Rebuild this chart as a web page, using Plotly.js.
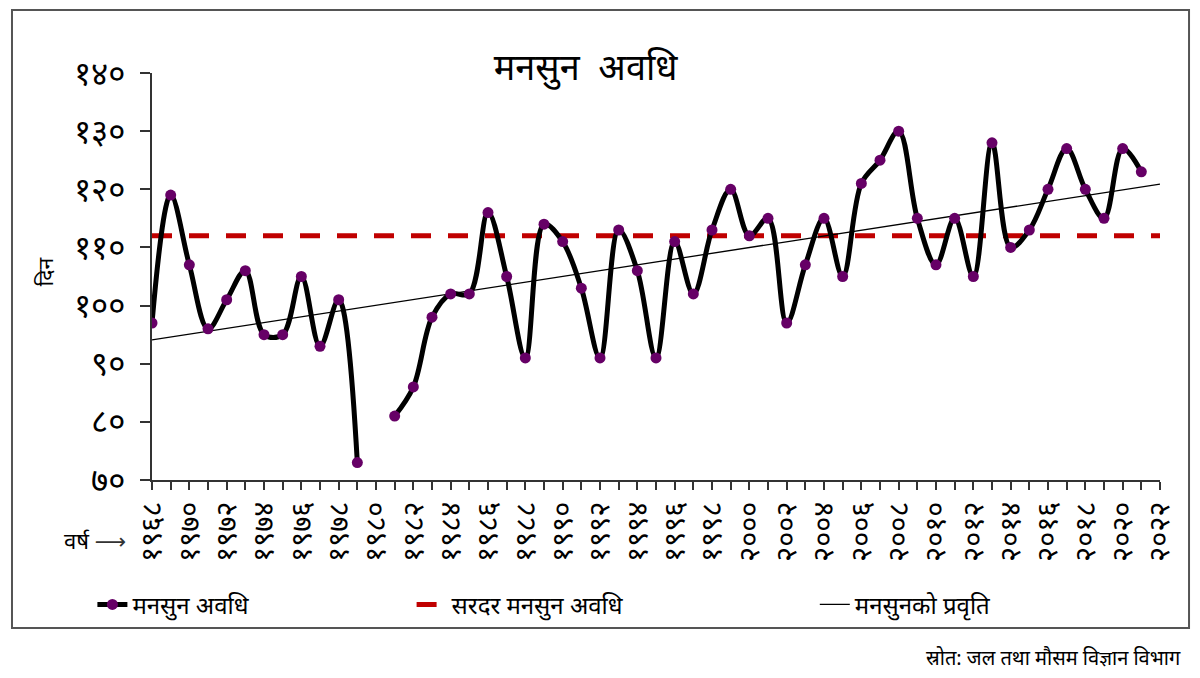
<!DOCTYPE html>
<html>
<head>
<meta charset="utf-8">
<script src="https://cdn.plot.ly/plotly-3.0.1.min.js"></script>
<style>
  html, body { margin: 0; padding: 0; background: #ffffff; }
  #chart { width: 1200px; height: 678px; }
</style>
</head>
<body>
<div id="chart"></div>
<script>
// ---- data ----
const years = [1968,1969,1970,1971,1972,1973,1974,1975,1976,1977,1978,1979,1980,1981,1982,1983,1984,1985,1986,1987,1988,1989,1990,1991,1992,1993,1994,1995,1996,1997,1998,1999,2000,2001,2002,2003,2004,2005,2006,2007,2008,2009,2010,2011,2012,2013,2014,2015,2016,2017,2018,2019,2020,2021];
const monsoonDays = [97,119,107,96,101,106,95,95,105,93,101,73,null,81,86,98,102,102,116,105,91,114,111,103,91,113,106,91,111,102,113,120,112,115,97,107,115,105,121,125,130,115,107,115,105,128,110,113,120,127,120,115,127,123];

const avgYears = [1968, 2022];
const avgDays = [112, 112];

const trendYears = [1968, 2022];
const trendDays = [94.1, 120.9];

const yTickVals = [70, 80, 90, 100, 110, 120, 130, 140];
const yTickText = ['७०', '८०', '९०', '१००', '११०', '१२०', '१३०', '१४०'];

const xTickVals = [1968,1970,1972,1974,1976,1978,1980,1982,1984,1986,1988,1990,1992,1994,1996,1998,2000,2002,2004,2006,2008,2010,2012,2014,2016,2018,2020,2022];
const xTickText = ['१९६८','१९७०','१९७२','१९७४','१९७६','१९७८','१९८०','१९८२','१९८४','१९८६','१९८८','१९९०','१९९२','१९९४','१९९६','१९९८','२०००','२००२','२००४','२००६','२००८','२०१०','२०१२','२०१४','२०१६','२०१८','२०२०','२०२२'];

const seriesName = 'मनसुन अवधि';
const avgName = 'सरदर मनसुन अवधि';
const trendName = 'मनसुनको प्रवृति';
const titleText = 'मनसुन  अवधि';
const yTitleText = 'दिन';
const xTitleText = 'वर्ष';
const sourceText = 'स्रोत: जल तथा मौसम विज्ञान विभाग';

const FONT = '"Noto Sans", "Noto Sans Devanagari", "DejaVu Sans", sans-serif';

const traces = [
  {
    x: avgYears, y: avgDays, name: avgName, type: 'scatter', mode: 'lines',
    line: { color: '#c00000', width: 5, dash: '20px,17px' },
    legend: 'legend2', hoverinfo: 'skip'
  },
  {
    x: trendYears, y: trendDays, name: trendName, type: 'scatter', mode: 'lines',
    line: { color: '#000000', width: 1.3 },
    legend: 'legend3', hoverinfo: 'skip'
  },
  {
    x: years, y: monsoonDays, name: seriesName, type: 'scatter', mode: 'lines+markers',
    connectgaps: false,
    line: { color: '#000000', width: 5, shape: 'spline', smoothing: 1 },
    marker: { color: '#660066', size: 11 },
    legend: 'legend'
  }
];

const legendCommon = {
  orientation: 'h', xref: 'container', yref: 'container',
  yanchor: 'middle', xanchor: 'left', y: 0.108,
  bgcolor: 'rgba(0,0,0,0)', borderwidth: 0,
  font: { family: FONT, size: 24, color: '#000' }
};

const layout = {
  width: 1200, height: 678,
  paper_bgcolor: '#ffffff', plot_bgcolor: '#ffffff',
  margin: { l: 152, r: 40, t: 73, b: 198 },
  font: { family: FONT, color: '#000' },
  title: {
    text: titleText, xref: 'container', yref: 'container',
    x: 0.488, xanchor: 'center', y: 0.9, yanchor: 'middle',
    font: { family: FONT, size: 36, color: '#000' }
  },
  xaxis: {
    range: [1968, 2022], showgrid: false, zeroline: false,
    showline: true, linecolor: '#333', linewidth: 2,
    tickmode: 'array', tickvals: xTickVals, ticktext: xTickText,
    tickangle: -90, ticks: 'outside', ticklen: 8, tickcolor: '#333', tickwidth: 1.5,
    tickfont: { family: FONT, size: 29, color: '#000' },
    minor: { dtick: 1, tick0: 1968, ticks: 'outside', ticklen: 8, tickcolor: '#333', tickwidth: 1.5, showgrid: false }
  },
  yaxis: {
    range: [70, 140], showgrid: false, zeroline: false,
    showline: true, linecolor: '#333', linewidth: 2,
    tickmode: 'array', tickvals: yTickVals, ticktext: yTickText,
    ticks: 'outside', ticklen: 10, tickcolor: '#333', tickwidth: 1.5,
    ticklabelstandoff: 8,
    tickfont: { family: FONT, size: 33, color: '#000' }
  },
  showlegend: true,
  legend: Object.assign({}, legendCommon, { x: 0.077 }),
  legend2: Object.assign({}, legendCommon, { x: 0.343 }),
  legend3: Object.assign({}, legendCommon, { x: 0.679 }),
  shapes: [
    {
      type: 'rect', xref: 'paper', yref: 'paper',
      x0: -0.1389, x1: 1.0288, y0: -0.3636, y1: 1.1548,
      line: { color: '#555', width: 2 }, fillcolor: 'rgba(0,0,0,0)', layer: 'below'
    }
  ],
  annotations: [
    {
      text: yTitleText, xref: 'paper', yref: 'paper', x: -0.106, y: 0.511,
      textangle: -90, showarrow: false, xanchor: 'center', yanchor: 'middle',
      font: { family: FONT, size: 21, color: '#000' }
    },
    {
      text: xTitleText + ' <span style="color:#333">⟶</span>', xref: 'paper', yref: 'paper',
      x: -0.0565, y: -0.147, showarrow: false, xanchor: 'center', yanchor: 'middle',
      font: { family: FONT, size: 22, color: '#000' }
    },
    {
      text: sourceText, xref: 'paper', yref: 'paper', x: 1.023, y: -0.435,
      showarrow: false, xanchor: 'right', yanchor: 'middle',
      font: { family: FONT, size: 20, color: '#000' }
    }
  ]
};

Plotly.newPlot('chart', traces, layout, { displayModeBar: false, responsive: false });
</script>
</body>
</html>
